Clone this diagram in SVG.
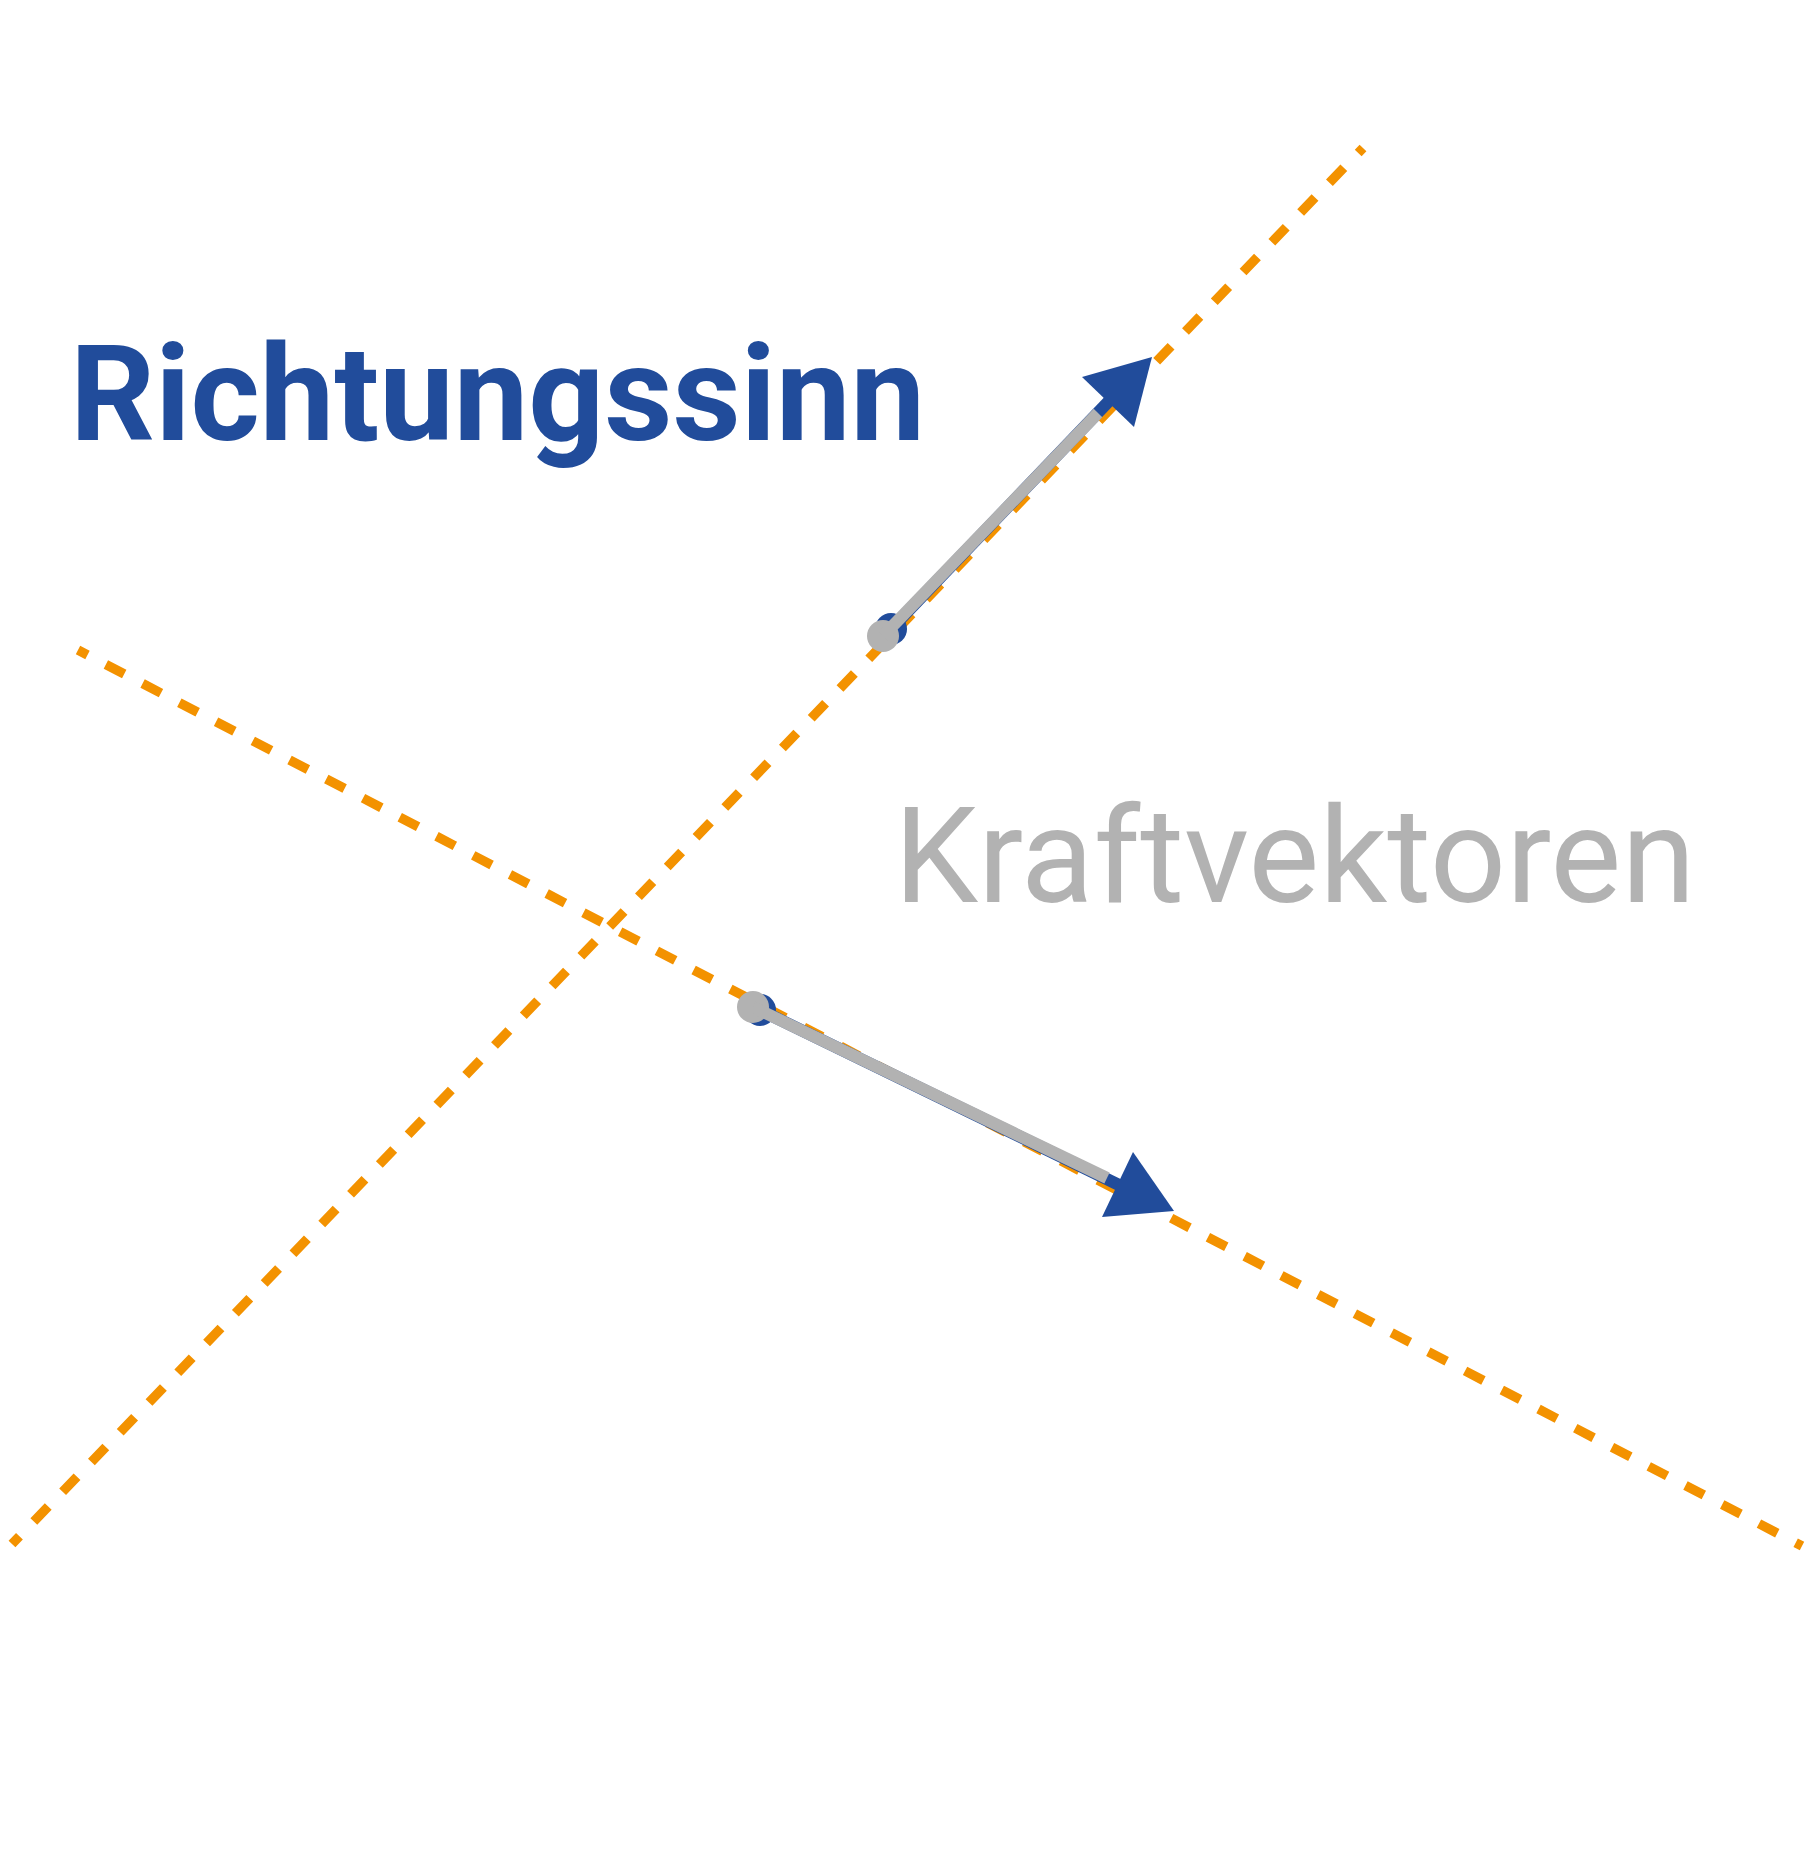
<svg xmlns="http://www.w3.org/2000/svg" width="1817" height="1851" viewBox="0 0 1817 1851">
<style>
.axis{fill:none;stroke:#F39200;stroke-width:9.5;stroke-dasharray:20.7 20.7;stroke-dashoffset:10}
.blue{fill:#214C9B}
.bline{stroke:#214C9B;stroke-width:12;fill:none}
.gline{stroke:#B2B2B2;stroke-width:12;fill:none}
.gray{fill:#B2B2B2}
.t1{font-family:Roboto,"Liberation Sans",sans-serif;font-weight:700;font-size:133px;fill:#214C9B}
.t2{font-family:Roboto,"Liberation Sans",sans-serif;font-weight:400;font-size:134px;fill:#B2B2B2}
</style>
<rect width="1817" height="1851" fill="#ffffff"/>
<g id="connectors">
<line class="axis" x1="12" y1="1544" x2="1363" y2="148"/>
<line class="axis" x1="78" y1="650" x2="1802" y2="1546"/>
</g>
<g id="vector1">
<circle class="blue" cx="891" cy="629" r="16"/>
<line class="bline" x1="891" y1="629" x2="1110" y2="400"/>
<polygon class="blue" points="1152,357 1082,377 1134,427"/>
<circle class="gray" cx="883" cy="636" r="16"/>
<line class="gline" x1="883" y1="636" x2="1098" y2="413"/>
</g>
<g id="vector2">
<circle class="blue" cx="760" cy="1010" r="16"/>
<line class="bline" x1="760" y1="1010" x2="1119" y2="1185"/>
<polygon class="blue" points="1174,1211 1133,1152 1102,1217"/>
<circle class="gray" cx="753" cy="1007" r="16"/>
<line class="gline" x1="753" y1="1007" x2="1107" y2="1178"/>
</g>
<g id="label-richtungssinn">
<text class="t1" x="70" y="440">Richtungssinn</text>
</g>
<g id="label-kraftvektoren">
<text class="t2" x="894" y="902">Kraftvektoren</text>
</g>
</svg>
